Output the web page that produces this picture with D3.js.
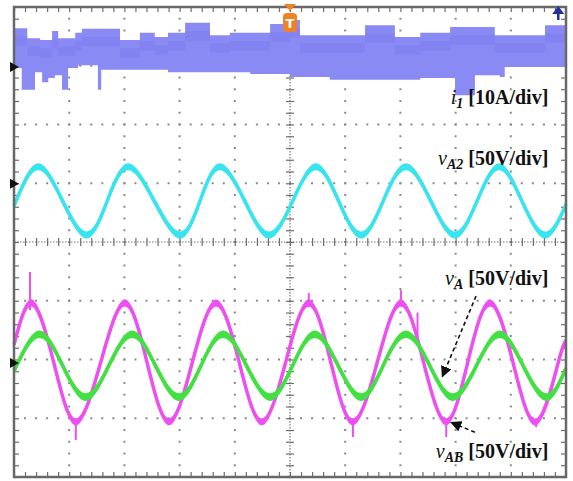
<!DOCTYPE html>
<html>
<head>
<meta charset="utf-8">
<script src="https://cdn.jsdelivr.net/npm/d3@7"></script>
<style>
  body { margin: 0; background: #fff; }
  svg { display: block; }
  .lbl { font-family: "Liberation Serif", "Times New Roman", serif; font-weight: bold; font-size: 20px; fill: #111; }
  .axis path.domain { display: none; }
  .axis text { display: none; }
</style>
</head>
<body>
<svg width="573" height="481"></svg>
<script>
// Scope screen: 10 horizontal x 8 vertical divisions. All readings below are in divisions.

// i1 current, noisy band (upper and lower envelope)
const i1Time   = [0, 0.14, 0.24, 0.38, 0.47, 0.51, 0.62, 0.69, 0.74, 0.80, 0.87, 0.98, 1.11, 1.16, 1.23, 1.52, 1.58, 1.92, 2.28, 2.55, 2.79, 3.10, 3.55, 3.91, 4.28, 4.64, 5.00, 5.18, 5.72, 6.36, 6.90, 7.36, 7.90, 7.99, 8.35, 8.71, 8.80, 8.89, 9.62, 10];
const i1Top    = [3.64, 3.64, 3.47, 3.47, 3.44, 3.44, 3.44, 3.59, 3.59, 3.47, 3.47, 3.47, 3.56, 3.56, 3.63, 3.63, 3.63, 3.44, 3.56, 3.49, 3.56, 3.73, 3.52, 3.56, 3.56, 3.71, 3.78, 3.52, 3.52, 3.69, 3.49, 3.56, 3.66, 3.66, 3.66, 3.52, 3.52, 3.52, 3.69, 3.69];
const i1Bottom = [2.96, 2.59, 2.59, 2.89, 2.89, 2.72, 2.79, 2.79, 2.84, 2.84, 2.59, 2.96, 2.96, 3.01, 3.01, 2.59, 2.93, 2.93, 2.93, 2.93, 2.89, 2.89, 2.89, 2.89, 2.86, 2.86, 2.81, 2.81, 2.76, 2.76, 2.76, 2.79, 2.79, 2.50, 2.84, 2.84, 2.81, 2.98, 2.98, 2.98];

// vA2 (cyan)
const vA2Time  = [0, 0.43, 0.88, 1.32, 1.69, 2.07, 2.54, 3.01, 3.37, 3.73, 4.18, 4.62, 5.05, 5.47, 5.88, 6.29, 6.69, 7.10, 7.55, 7.99, 8.39, 8.79, 9.20, 9.62, 10];
const vA2Value = [0.61, 1.28, 0.70, 0.12, 0.70, 1.28, 0.70, 0.12, 0.70, 1.28, 0.70, 0.12, 0.70, 1.28, 0.70, 0.12, 0.70, 1.28, 0.70, 0.12, 0.70, 1.28, 0.70, 0.12, 0.64];

// vAB (magenta)
const vABTime  = [0, 0.33, 0.72, 1.12, 1.57, 2.01, 2.41, 2.81, 3.23, 3.66, 4.08, 4.49, 4.92, 5.34, 5.74, 6.14, 6.58, 7.01, 7.42, 7.83, 8.22, 8.62, 9.04, 9.46, 9.86, 10];
const vABValue = [-1.75, -1.04, -2.05, -3.06, -2.05, -1.04, -2.05, -3.06, -2.05, -1.04, -2.05, -3.06, -2.05, -1.04, -2.05, -3.06, -2.05, -1.04, -2.05, -3.06, -2.05, -1.04, -2.05, -3.06, -2.05, -1.70];
// spikes on vAB: [time, from, to]
const vABSpikes = [[0.29, -0.51, -1.16], [1.12, -3.06, -3.37], [5.34, -0.87, -1.10], [6.14, -3.06, -3.32], [7.01, -0.82, -1.07], [7.31, -1.20, -1.63], [7.83, -3.06, -3.32], [9.46, -3.06, -3.15]];

// vA (green)
const vATime   = [0, 0.45, 0.88, 1.30, 1.72, 2.14, 2.56, 2.99, 3.39, 3.79, 4.21, 4.64, 5.05, 5.45, 5.87, 6.29, 6.69, 7.10, 7.53, 7.95, 8.38, 8.80, 9.22, 9.64, 10];
const vAValue  = [-2.20, -1.57, -2.10, -2.64, -2.10, -1.57, -2.10, -2.64, -2.10, -1.57, -2.10, -2.64, -2.10, -1.57, -2.10, -2.64, -2.10, -1.57, -2.10, -2.64, -2.10, -1.57, -2.10, -2.64, -2.15];

// channel ground markers (left edge)
const groundLevels = [2.98, 0.99, -2.06];

const svg = d3.select("svg");
const x = d3.scaleLinear().domain([0, 10]).range([14, 566]);
const y = d3.scaleLinear().domain([-4, 4]).range([477, 7]);

svg.append("rect").attr("width", 573).attr("height", 481).attr("fill", "#fff");

// dotted graticule
const grid = svg.append("g");
d3.range(1, 10).filter(d => d !== 5).forEach(function(d) {
    grid.append("line")
        .attr("x1", x(d)).attr("x2", x(d)).attr("y1", y(4)).attr("y2", y(-4))
        .attr("stroke", "#8a8a8a").attr("stroke-width", 2)
        .attr("stroke-dasharray", "2," + (y(0) - y(0.2) - 2))
        .attr("stroke-dashoffset", 1);
});
d3.range(-3, 4).filter(d => d !== 0).forEach(function(d) {
    grid.append("line")
        .attr("x1", x(0)).attr("x2", x(10)).attr("y1", y(d)).attr("y2", y(d))
        .attr("stroke", "#8a8a8a").attr("stroke-width", 2)
        .attr("stroke-dasharray", "2," + (x(0.2) - x(0) - 2))
        .attr("stroke-dashoffset", 1);
});

// centre cross, dense dots + minor ticks
grid.append("line")
    .attr("x1", x(5)).attr("x2", x(5)).attr("y1", y(4)).attr("y2", y(-4))
    .attr("stroke", "#777").attr("stroke-width", 1.2).attr("stroke-dasharray", "1.5,1.5");
grid.append("line")
    .attr("x1", x(0)).attr("x2", x(10)).attr("y1", y(0)).attr("y2", y(0))
    .attr("stroke", "#777").attr("stroke-width", 1.2).attr("stroke-dasharray", "1.5,1.5");

const tTicks = d3.range(0, 50).map(d => d * 0.2);
const vTicks = d3.range(-20, 20).map(d => d * 0.2);

function tickStyle(g) {
    g.selectAll(".tick line").attr("stroke", "#6d6d6d").attr("stroke-width", 1.2);
}

svg.append("g").attr("class", "axis")
    .attr("transform", "translate(0," + (y(0) - 4) + ")")
    .call(d3.axisBottom(x).tickValues(tTicks).tickSize(8).tickFormat(""))
    .call(tickStyle);
svg.append("g").attr("class", "axis")
    .attr("transform", "translate(" + (x(5) - 4) + ",0)")
    .call(d3.axisRight(y).tickValues(vTicks).tickSize(8).tickFormat(""))
    .call(tickStyle);

// border ticks
svg.append("g").attr("class", "axis")
    .attr("transform", "translate(0," + y(4) + ")")
    .call(d3.axisBottom(x).tickValues(tTicks).tickSize(5).tickFormat(""))
    .call(tickStyle);
svg.append("g").attr("class", "axis")
    .attr("transform", "translate(0," + y(-4) + ")")
    .call(d3.axisTop(x).tickValues(tTicks).tickSize(5).tickFormat(""))
    .call(tickStyle);
svg.append("g").attr("class", "axis")
    .attr("transform", "translate(" + x(0) + ",0)")
    .call(d3.axisRight(y).tickValues(vTicks).tickSize(5).tickFormat(""))
    .call(tickStyle);
svg.append("g").attr("class", "axis")
    .attr("transform", "translate(" + x(10) + ",0)")
    .call(d3.axisLeft(y).tickValues(vTicks).tickSize(5).tickFormat(""))
    .call(tickStyle);

// i1 band
const i1Data = i1Time.map((t, i) => ({t: t, hi: i1Top[i], lo: i1Bottom[i]}));
svg.append("path")
    .datum(i1Data)
    .attr("d", d3.area().x(d => x(d.t)).y0(d => y(d.lo)).y1(d => y(d.hi)).curve(d3.curveStepAfter))
    .attr("fill", "#8a8af4");
svg.append("path")
    .datum(i1Data)
    .attr("d", d3.area().x(d => x(d.t)).y0(d => y(d.hi - 0.30)).y1(d => y(d.hi - 0.14)).curve(d3.curveStepAfter))
    .attr("fill", "#7676ee").attr("opacity", 0.4);

// sine traces drawn as a thin vertical band, like a noisy scope trace
function trace(times, values, color, half) {
    let data = times.map((t, i) => ({t: t, v: values[i]}));
    svg.append("path")
        .datum(data)
        .attr("d", d3.area().x(d => x(d.t)).y0(d => y(d.v - half)).y1(d => y(d.v + half)).curve(d3.curveNatural))
        .attr("fill", color);
    svg.append("path")
        .datum(data)
        .attr("d", d3.line().x(d => x(d.t)).y(d => y(d.v)).curve(d3.curveNatural))
        .attr("fill", "none").attr("stroke", color).attr("stroke-width", 3.5);
}

trace(vA2Time, vA2Value, "#38e4ee", 0.06);
trace(vABTime, vABValue, "#ee4ff0", 0.06);
svg.selectAll(".spike")
    .data(vABSpikes)
    .enter()
    .append("line")
    .attr("x1", d => x(d[0])).attr("x2", d => x(d[0]))
    .attr("y1", d => y(d[1])).attr("y2", d => y(d[2]))
    .attr("stroke", "#ee4ff0").attr("stroke-width", 2);
trace(vATime, vAValue, "#43e043", 0.065);

// border
svg.append("rect")
    .attr("x", x(0)).attr("y", y(4))
    .attr("width", x(10) - x(0)).attr("height", y(-4) - y(4))
    .attr("fill", "none").attr("stroke", "#686868").attr("stroke-width", 2.5);

// ground markers
svg.selectAll(".gnd")
    .data(groundLevels)
    .enter()
    .append("path")
    .attr("d", d => "M" + (x(0) - 4) + "," + (y(d) - 5) + "L" + (x(0) + 5) + "," + y(d) + "L" + (x(0) - 4) + "," + (y(d) + 5) + "Z")
    .attr("fill", "#111");

// trigger marker
const tx = x(5);
svg.append("path")
    .attr("d", "M" + (tx - 6) + "," + 4 + "L" + (tx + 6) + "," + 4 + "L" + tx + "," + 11 + "Z")
    .attr("fill", "#f08226");
svg.append("rect")
    .attr("x", tx - 7).attr("y", 13).attr("width", 14).attr("height", 19).attr("rx", 4)
    .attr("fill", "#f08226");
svg.append("text")
    .attr("x", tx).attr("y", 28).attr("text-anchor", "middle")
    .attr("font-family", "DejaVu Sans, sans-serif").attr("font-weight", "bold").attr("font-size", 13)
    .attr("fill", "#fff").text("T");

// trigger level arrow, top right
const ax = x(9.86);
svg.append("path")
    .attr("d", "M" + (ax - 6) + "," + 14 + "L" + ax + "," + 6 + "L" + (ax + 6) + "," + 14 + "Z")
    .attr("fill", "#1f2f9c");
svg.append("line")
    .attr("x1", ax).attr("x2", ax).attr("y1", 12).attr("y2", 20)
    .attr("stroke", "#1f2f9c").attr("stroke-width", 2.5);

// labels
function label(tEnd, vBase, main, sub, rest) {
    let t = svg.append("text").attr("class", "lbl")
        .attr("x", x(tEnd)).attr("y", y(vBase)).attr("text-anchor", "end");
    t.append("tspan").attr("font-style", "italic").attr("font-weight", "normal").text(main);
    t.append("tspan").attr("font-style", "italic").attr("font-size", 14).attr("dy", 4).text(sub);
    t.append("tspan").attr("dy", -4).text(" " + rest);
}
label(9.68, 2.35, "i", "1", "[10A/div]");
label(9.68, 1.31, "v", "A2", "[50V/div]");
label(9.68, -0.73, "v", "A", "[50V/div]");
label(9.68, -3.68, "v", "AB", "[50V/div]");

// dashed pointer arrows
svg.append("defs").append("marker")
    .attr("id", "head").attr("viewBox", "0 0 10 10").attr("refX", 9).attr("refY", 5)
    .attr("markerWidth", 7).attr("markerHeight", 7).attr("orient", "auto")
    .append("path").attr("d", "M0,0L10,5L0,10Z").attr("fill", "#111");

const pointers = [[8.37, -0.92, 7.76, -2.29], [8.35, -3.24, 7.92, -3.07]];
svg.selectAll(".ptr")
    .data(pointers)
    .enter()
    .append("line")
    .attr("x1", d => x(d[0])).attr("y1", d => y(d[1]))
    .attr("x2", d => x(d[2])).attr("y2", d => y(d[3]))
    .attr("stroke", "#111").attr("stroke-width", 1.6)
    .attr("stroke-dasharray", "4,3")
    .attr("marker-end", "url(#head)");
</script>
</body>
</html>
